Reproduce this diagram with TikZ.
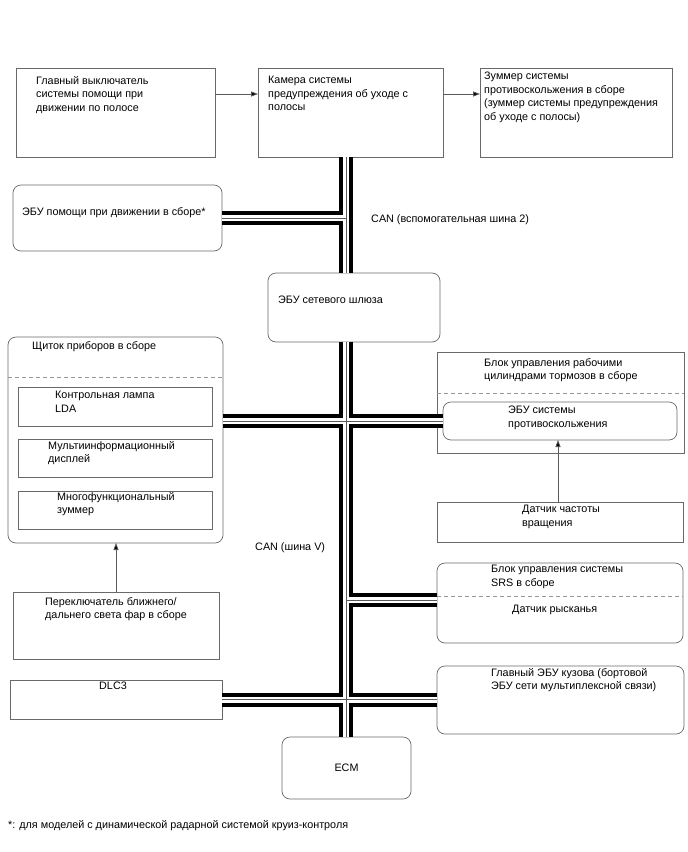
\documentclass[tikz,border=0pt]{standalone}
\usepackage{fontspec}
\setmainfont{Liberation Sans}
\usetikzlibrary{arrows.meta, positioning, calc}
\definecolor{framegray}{RGB}{105,105,105}
\definecolor{dashgray}{RGB}{150,150,150}
\definecolor{wiregray}{RGB}{90,90,90}

\tikzset{
  blk/.style={draw=framegray, line width=0.7pt, anchor=north west, inner sep=0pt, outer sep=0pt, font=\fontsize{10.8}{13.5}\selectfont},
  rblk/.style={blk, rounded corners=8pt},
  txt/.style={anchor=north west, align=left, inner sep=0pt, font=\fontsize{10.8}{13.5}\selectfont},
  sep/.style={draw=dashgray, line width=0.7pt, dash pattern=on 4pt off 3pt},
  sig/.style={draw=wiregray, line width=0.8pt, -{Triangle[length=7pt, width=5pt, fill=black]}},
  bus/.style={line width=14pt, black, postaction={draw=white, line width=6pt}, postaction={draw=wiregray, line width=0.8pt}},
}

\begin{document}
\begin{tikzpicture}[x=1pt, y=-1pt]
  \useasboundingbox (0,0) rectangle (688,852);

  % Top row
  \node[blk, minimum width=199pt, minimum height=89pt] (mainsw) at (16,68) {};
  \node[txt] (mainswt) at (36,76) {Главный выключатель\\системы помощи при\\движении по полосе};
  \node[blk, minimum width=185pt, minimum height=89pt] (cam) at (258,68) {};
  \node[txt] (camt) at (268,76) {Камера системы\\предупреждения об уходе с\\полосы};
  \node[blk, minimum width=192pt, minimum height=89pt] (zum) at (480,68) {};
  \node[txt] (zumt) at (484,72) {Зуммер системы\\противоскольжения в сборе\\(зуммер системы предупреждения\\об уходе с полосы)};

  % Left side
  \node[rblk, minimum width=209pt, minimum height=66pt] (assist) at (13,185) {};
  \node[txt] (assistt) at (22,207) {ЭБУ помощи при движении в сборе*};
  \node[rblk, minimum width=172pt, minimum height=69pt] (gw) at (268,273) {};
  \node[txt] (gwt) at (278,296) {ЭБУ сетевого шлюза};

  \node[rblk, minimum width=215pt, minimum height=206pt] (cluster) at (8,337) {};
  \node[txt] (clustert) at (32,341) {Щиток приборов в сборе};
  \draw[sep] (cluster.west |- 0,377) -- (cluster.east |- 0,377);
  \node[blk, minimum width=194pt, minimum height=39pt] (lamp) at (18,387) {};
  \node[txt] (lampt) at (55,391) {Контрольная лампа\\LDA};
  \node[blk, minimum width=194pt, minimum height=38pt] (disp) at (18,439) {};
  \node[txt] (dispt) at (48,441) {Мультиинформационный\\дисплей};
  \node[blk, minimum width=194pt, minimum height=38pt] (mbuzz) at (18,491) {};
  \node[txt] (mbuzzt) at (57,492) {Многофункциональный\\зуммер};

  \node[blk, minimum width=206pt, minimum height=67pt] (hlsw) at (13,592) {};
  \node[txt] (hlswt) at (45,597) {Переключатель ближнего/\\дальнего света фар в сборе};

  \node[blk, minimum width=212pt, minimum height=39pt] (dlc) at (10,680) {};
  \node[txt] (dlct) at (99,682) {DLC3};

  \node[rblk, minimum width=129pt, minimum height=62pt] (ecm) at (282,737) {ECM};

  % Right side
  \node[blk, minimum width=247pt, minimum height=101pt] (brake) at (437,352) {};
  \node[txt] (braket) at (484,358) {Блок управления рабочими\\цилиндрами тормозов в сборе};
  \draw[sep] (brake.west |- 0,393) -- (brake.east |- 0,393);
  \node[rblk, minimum width=234pt, minimum height=38pt] (abs) at (443,402) {};
  \node[txt] (abst) at (508,406) {ЭБУ системы\\противоскольжения};

  \node[blk, minimum width=246pt, minimum height=40pt] (spd) at (437,502) {};
  \node[txt] (spdt) at (522,505) {Датчик частоты\\вращения};

  \node[rblk, minimum width=246pt, minimum height=80pt] (srs) at (437,563) {};
  \node[txt] (srst) at (491,565) {Блок управления системы\\SRS в сборе};
  \draw[sep] (srs.west |- 0,596) -- (srs.east |- 0,596);
  \node[txt] (yawt) at (512,605) {Датчик рысканья};

  \node[rblk, minimum width=247pt, minimum height=68pt] (body) at (437,666) {};
  \node[txt] (bodyt) at (491,668) {Главный ЭБУ кузова (бортовой\\ЭБУ сети мультиплексной связи)};

  % Bus labels
  \node[txt] (canaux) at (371,214) {CAN (вспомогательная шина 2)};
  \node[txt] (canv) at (255,542) {CAN (шина V)};

  % Signal lines
  \coordinate (arow) at (0,94);
  \coordinate (spdx) at (558,0);
  \draw[sig] (mainsw.east |- arow) -- (cam.west |- arow);
  \draw[sig] (cam.east |- arow) -- (zum.west |- arow);
  \draw[sig] (spd.north -| spdx) -- (abs.south -| spdx);
  \draw[sig] (hlsw.north) -- (cluster.south -| hlsw.north);

  % CAN buses
  \coordinate (busx) at (346,0);
  \coordinate (srsy) at (0,600);
  \draw[bus] (cam.south -| busx) -- (gw.north -| busx)
    (assist.east) -- (assist.east -| busx)
    (gw.south -| busx) -- (ecm.north -| busx)
    (abs.west -| cluster.east) -- (abs.west)
    (srsy -| busx) -- (srsy -| srs.west)
    (dlc.east) -- (dlc.east -| body.west);

  % Footnote
  \node[txt] (note) at (8,820) {*: для моделей с динамической радарной системой круиз-контроля};
\end{tikzpicture}
\end{document}
